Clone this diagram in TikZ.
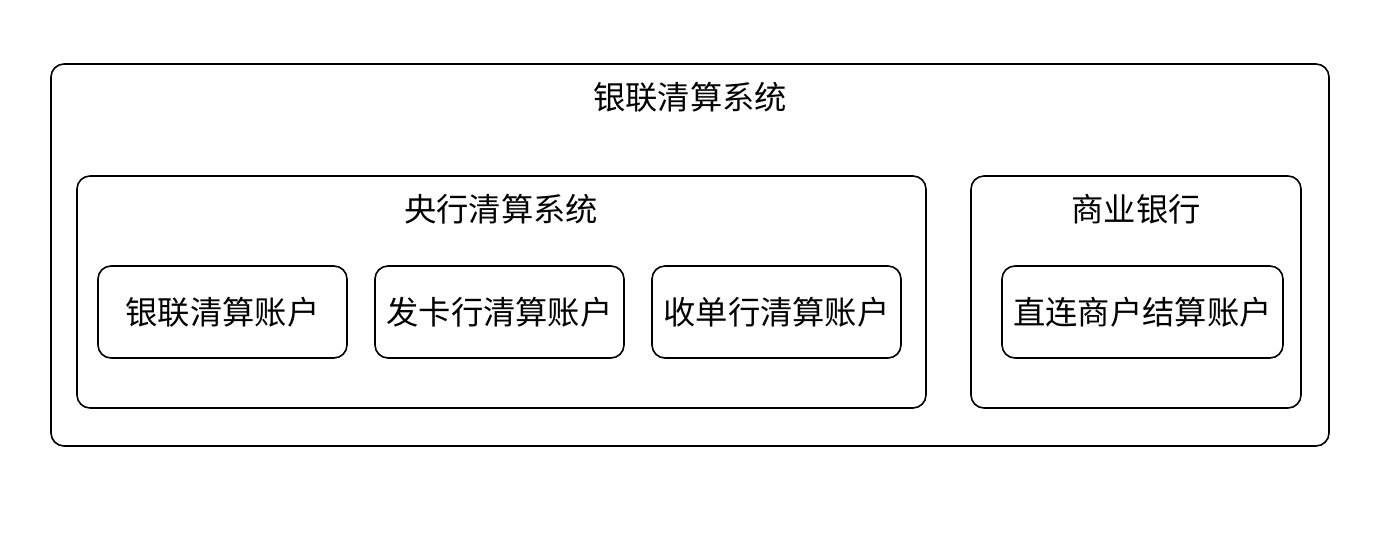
\documentclass[tikz,border=0pt]{standalone}
\usepackage{fontspec}
\setmainfont{Noto Sans CJK SC}
\begin{document}
\begin{tikzpicture}[x=1pt,y=-1pt,
  box/.style={draw=black,line width=1.6pt,rounded corners=13pt},
  lbl/.style={font=\fontsize{32.3}{37}\selectfont,inner sep=0pt,anchor=center}]
\useasboundingbox (0,0) rectangle (1380,550);
\fill[white] (0,0) rectangle (1380,550);
% outer
\draw[box] (51,64) rectangle (1329,446);
\node[lbl] (outerT) at (690,97) {银联清算系统};
% central bank
\draw[box] (77,176) rectangle (926,408);
\node[lbl] (cbT) at (501,209) {央行清算系统};
% commercial bank
\draw[box] (971,176) rectangle (1301,408);
\node[lbl] (comT) at (1136,209) {商业银行};
% accounts
\draw[box] (98,266) rectangle (347,358);
\node[lbl] (a1) at (222.5,312) {银联清算账户};
\draw[box] (375,266) rectangle (624,358);
\node[lbl] (a2) at (499.5,312) {发卡行清算账户};
\draw[box] (652,266) rectangle (901,358);
\node[lbl] (a3) at (776.5,312) {收单行清算账户};
\draw[box] (1002,266) rectangle (1283,358);
\node[lbl] (a4) at (1142.5,312) {直连商户结算账户};
\end{tikzpicture}
\end{document}
